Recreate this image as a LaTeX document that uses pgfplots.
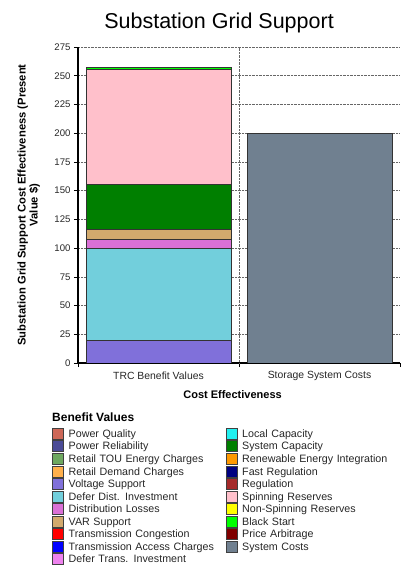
\documentclass[border=0pt]{standalone}
\usepackage{fontspec}
\setmainfont{Liberation Sans}
\usepackage{pgfplots}
\pgfplotsset{compat=1.18}
\definecolor{cPQ}{HTML}{CD6858}
\definecolor{cPR}{HTML}{4B4B96}
\definecolor{cTOU}{HTML}{6EA860}
\definecolor{cRDC}{HTML}{FFB04C}
\definecolor{cVS}{HTML}{8070DA}
\definecolor{cDDI}{HTML}{72CFDC}
\definecolor{cDL}{HTML}{DA70D6}
\definecolor{cVAR}{HTML}{D2AA6D}
\definecolor{cTC}{HTML}{FF0000}
\definecolor{cTAC}{HTML}{0000FF}
\definecolor{cDTI}{HTML}{EE82EE}
\definecolor{cLC}{HTML}{22F0F0}
\definecolor{cSC}{HTML}{007F00}
\definecolor{cREI}{HTML}{FF9900}
\definecolor{cFR}{HTML}{000080}
\definecolor{cREG}{HTML}{A52A2A}
\definecolor{cSR}{HTML}{FFC0CB}
\definecolor{cNSR}{HTML}{FFFF00}
\definecolor{cBS}{HTML}{00FF00}
\definecolor{cPA}{HTML}{800000}
\definecolor{cSYS}{HTML}{708090}
\begin{document}
\begin{tikzpicture}[x=1pt,y=1pt]
\path[use as bounding box] (0,0) rectangle (401,565);
\begin{axis}[
  at={(78pt,202pt)}, anchor=south west,
  width=322pt, height=316pt, scale only axis,
  ybar stacked, bar width=0.9,
  xmin=-0.5, xmax=1.5, ymin=0, ymax=275,
  ytick={0,25,...,275},
  xtick={0,1}, xticklabels={TRC Benefit Values, Storage System Costs},
  major x tick style={draw=none},
  minor xtick={-0.5,0.5,1.5},
  extra x ticks={0.5}, extra x tick labels={},
  extra x tick style={grid=major, major x tick style={draw=none}},
  ymajorgrids,
  grid style={densely dotted, black!60, line width=0.5pt},
  axis x line*=bottom, axis y line*=left,
  axis line style={line width=1.3pt, black},
  tick align=outside,
  major tick length=4pt, minor tick length=4pt,
  tick style={black, line width=0.6pt},
  yticklabel style={font=\fontsize{9.6}{10}\selectfont, black!85},
  xticklabel style={font=\fontsize{10.4}{11}\selectfont, black!85, yshift=-1pt},
  /pgf/number format/assume math mode=true,
  ylabel={Substation Grid Support Cost Effectiveness (Present\\Value \$)},
  ylabel style={font=\bfseries\fontsize{11.2}{11.8}\selectfont, align=center,
    at={(axis description cs:-0.153,0.5)}, anchor=center},
  xlabel={Cost Effectiveness},
  xlabel style={font=\bfseries\fontsize{11}{12}\selectfont,
    at={(axis description cs:0.48,-0.101)}, anchor=center},
  title={Substation Grid Support},
  title style={font=\fontsize{21.5}{24}\selectfont,
    at={(axis description cs:0.438,1.038)}, anchor=base},
  legend image code/.code={\draw[#1, draw=black!75, line width=0.5pt] (0pt,-5.5pt) rectangle (11pt,5.5pt);},
  legend columns=2,
  legend cell align=left,
  legend style={draw=none, fill=none, inner sep=0pt, row sep=0pt, column sep=5pt,
    at={(axis description cs:-0.0807,-0.203)}, anchor=north west,
    font=\fontsize{10.7}{12}\selectfont,
    nodes={inner sep=0pt, text height=10.05pt, text depth=2.5pt, text width=152pt, text=black!85}},
]
\addplot[fill=cVS, draw=black!80, line width=0.5pt, forget plot] coordinates {(0,20) (1,0)};
\addplot[fill=cDDI, draw=black!80, line width=0.5pt, forget plot] coordinates {(0,80) (1,0)};
\addplot[fill=cDL, draw=black!80, line width=0.5pt, forget plot] coordinates {(0,8) (1,0)};
\addplot[fill=cVAR, draw=black!80, line width=0.5pt, forget plot] coordinates {(0,8.5) (1,0)};
\addplot[fill=cSC, draw=black!80, line width=0.5pt, forget plot] coordinates {(0,39) (1,0)};
\addplot[fill=cSR, draw=black!80, line width=0.5pt, forget plot] coordinates {(0,100.5) (1,0)};
\addplot[fill=cBS, draw=black!80, line width=0.5pt, forget plot] coordinates {(0,1.5) (1,0)};
\addplot[fill=cSYS, draw=black!80, line width=0.5pt, forget plot] coordinates {(0,0) (1,200)};
\addlegendimage{fill=cPQ}\addlegendentry{Power Quality}
\addlegendimage{fill=cLC}\addlegendentry{Local Capacity}
\addlegendimage{fill=cPR}\addlegendentry{Power Reliability}
\addlegendimage{fill=cSC}\addlegendentry{System Capacity}
\addlegendimage{fill=cTOU}\addlegendentry{Retail TOU Energy Charges}
\addlegendimage{fill=cREI}\addlegendentry{Renewable Energy Integration}
\addlegendimage{fill=cRDC}\addlegendentry{Retail Demand Charges}
\addlegendimage{fill=cFR}\addlegendentry{Fast Regulation}
\addlegendimage{fill=cVS}\addlegendentry{Voltage Support}
\addlegendimage{fill=cREG}\addlegendentry{Regulation}
\addlegendimage{fill=cDDI}\addlegendentry{Defer Dist. Investment}
\addlegendimage{fill=cSR}\addlegendentry{Spinning Reserves}
\addlegendimage{fill=cDL}\addlegendentry{Distribution Losses}
\addlegendimage{fill=cNSR}\addlegendentry{Non-Spinning Reserves}
\addlegendimage{fill=cVAR}\addlegendentry{VAR Support}
\addlegendimage{fill=cBS}\addlegendentry{Black Start}
\addlegendimage{fill=cTC}\addlegendentry{Transmission Congestion}
\addlegendimage{fill=cPA}\addlegendentry{Price Arbitrage}
\addlegendimage{fill=cTAC}\addlegendentry{Transmission Access Charges}
\addlegendimage{fill=cSYS}\addlegendentry{System Costs}
\addlegendimage{fill=cDTI}\addlegendentry{Defer Trans. Investment}
\end{axis}
\node[anchor=base west, inner sep=0pt, font=\bfseries\fontsize{12}{13}\selectfont] at (52pt,143pt) {Benefit Values};
\end{tikzpicture}
\end{document}
